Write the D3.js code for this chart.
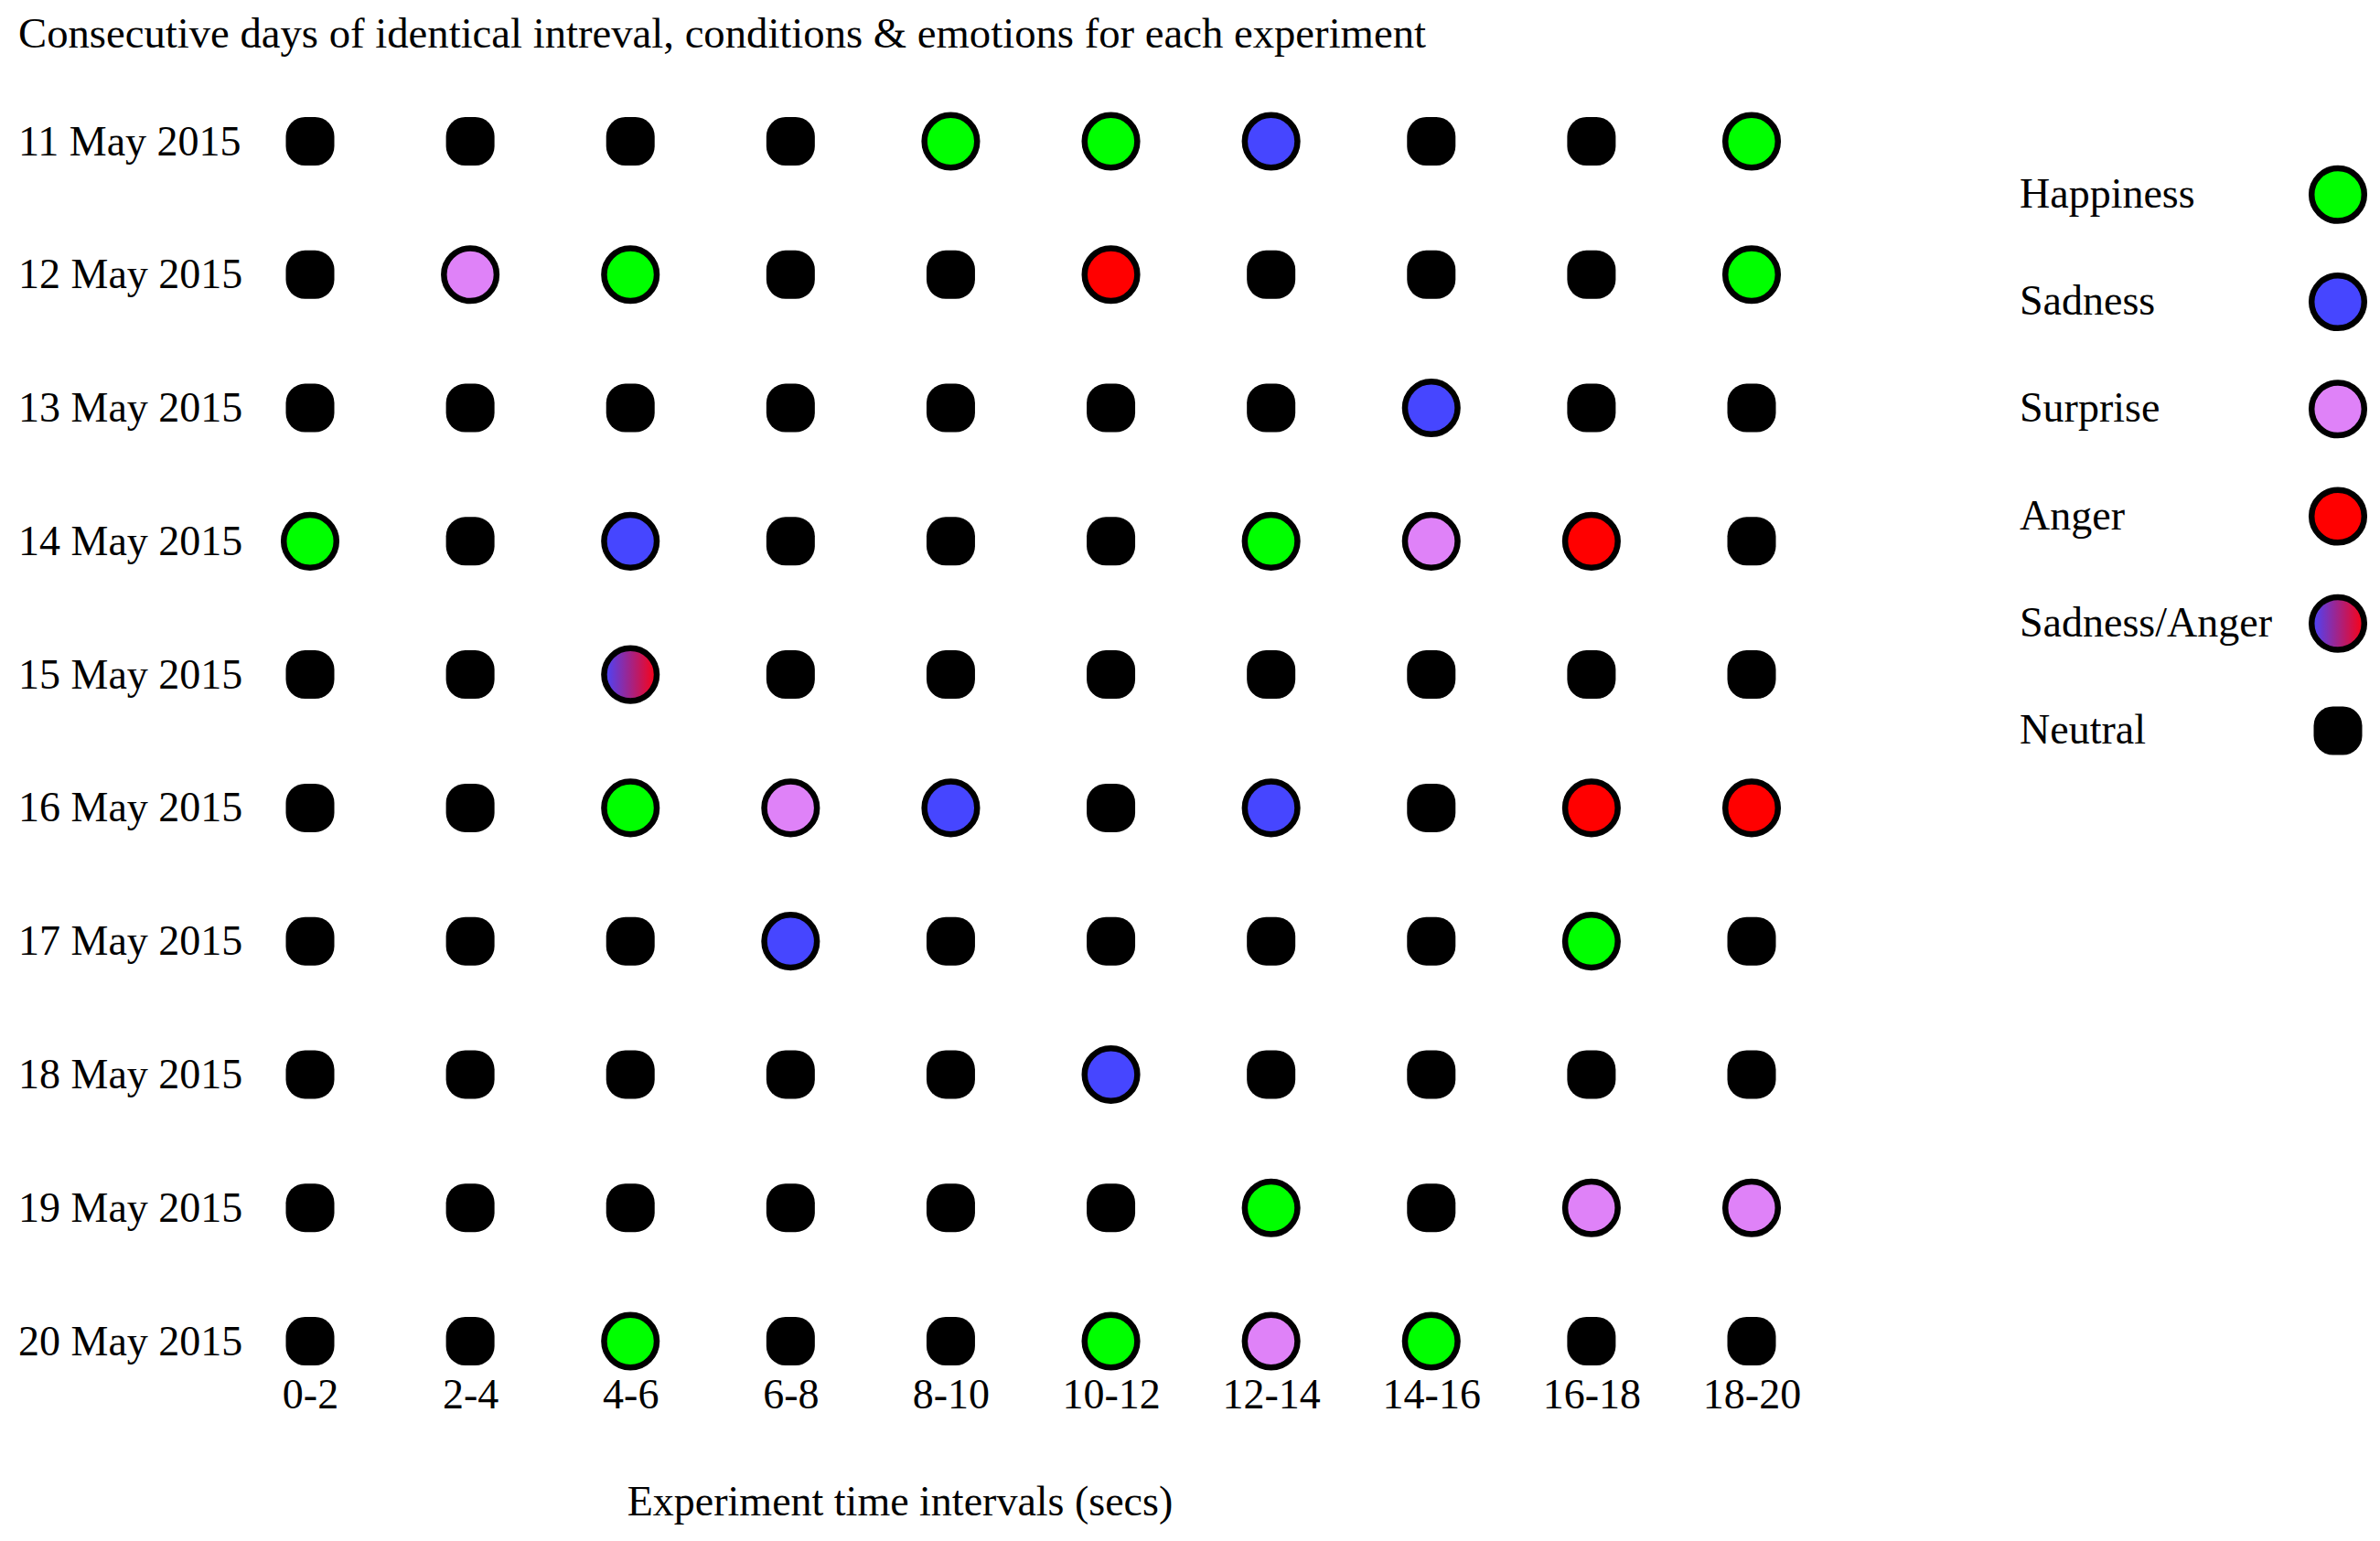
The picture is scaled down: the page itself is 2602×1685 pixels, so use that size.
<!DOCTYPE html>
<html>
<head>
<meta charset="utf-8">
<script src="https://cdn.jsdelivr.net/npm/d3@7"></script>
<style>
  body { margin: 0; background: #fff; }
  text { font-family: "Liberation Serif", "Times New Roman", serif; fill: #000; }
</style>
</head>
<body>
<div id="chart"></div>
<script>
// chart data
var days = ['11 May 2015', '12 May 2015', '13 May 2015', '14 May 2015', '15 May 2015',
   '16 May 2015', '17 May 2015', '18 May 2015', '19 May 2015', '20 May 2015'];
var intervals = ['0-2', '2-4', '4-6', '6-8', '8-10', '10-12', '12-14', '14-16', '16-18', '18-20'];
var emotions = ['Happiness', 'Sadness', 'Surprise', 'Anger', 'Sadness/Anger', 'Neutral'];

// one row per day, one emotion per interval
var row11 = ['Neutral', 'Neutral', 'Neutral', 'Neutral', 'Happiness', 'Happiness', 'Sadness', 'Neutral', 'Neutral', 'Happiness'];
var row12 = ['Neutral', 'Surprise', 'Happiness', 'Neutral', 'Neutral', 'Anger', 'Neutral', 'Neutral', 'Neutral', 'Happiness'];
var row13 = ['Neutral', 'Neutral', 'Neutral', 'Neutral', 'Neutral', 'Neutral', 'Neutral', 'Sadness', 'Neutral', 'Neutral'];
var row14 = ['Happiness', 'Neutral', 'Sadness', 'Neutral', 'Neutral', 'Neutral', 'Happiness', 'Surprise', 'Anger', 'Neutral'];
var row15 = ['Neutral', 'Neutral', 'Sadness/Anger', 'Neutral', 'Neutral', 'Neutral', 'Neutral', 'Neutral', 'Neutral', 'Neutral'];
var row16 = ['Neutral', 'Neutral', 'Happiness', 'Surprise', 'Sadness', 'Neutral', 'Sadness', 'Neutral', 'Anger', 'Anger'];
var row17 = ['Neutral', 'Neutral', 'Neutral', 'Sadness', 'Neutral', 'Neutral', 'Neutral', 'Neutral', 'Happiness', 'Neutral'];
var row18 = ['Neutral', 'Neutral', 'Neutral', 'Neutral', 'Neutral', 'Sadness', 'Neutral', 'Neutral', 'Neutral', 'Neutral'];
var row19 = ['Neutral', 'Neutral', 'Neutral', 'Neutral', 'Neutral', 'Neutral', 'Happiness', 'Neutral', 'Surprise', 'Surprise'];
var row20 = ['Neutral', 'Neutral', 'Happiness', 'Neutral', 'Neutral', 'Happiness', 'Surprise', 'Happiness', 'Neutral', 'Neutral'];
var rows = [row11, row12, row13, row14, row15, row16, row17, row18, row19, row20];

var width = 2602,
   height = 1685;

var fillColor = {
   'Happiness': '#00ff00',
   'Sadness': '#4646ff',
   'Surprise': '#df82f8',
   'Anger': '#ff0000',
   'Sadness/Anger': 'url(#sadAnger)',
   'Neutral': '#000'
};

var svg = d3.select('#chart').append('svg')
   .attr('width', width)
   .attr('height', height);

var defs = svg.append('defs');
var grad = defs.append('linearGradient')
   .attr('id', 'sadAnger')
   .attr('x1', '0%').attr('x2', '100%')
   .attr('y1', '0%').attr('y2', '0%');
grad.append('stop').attr('offset', '0%').attr('stop-color', '#4646ff');
grad.append('stop').attr('offset', '100%').attr('stop-color', '#ff0010');

var x = d3.scalePoint().domain(intervals).range([339, 1915]);
var y = d3.scalePoint().domain(days).range([154.5, 1466.5]);

var fontSize = 46;

// title
svg.append('text')
   .attr('x', 20)
   .attr('y', 52)
   .style('font-size', '46.7px')
   .text('Consecutive days of identical intreval, conditions & emotions for each experiment');

// day labels
svg.selectAll('.day-label')
   .data(days)
   .enter().append('text')
   .attr('class', 'day-label')
   .attr('x', 20)
   .attr('y', function(d) {
      return y(d) + 15
   })
   .style('font-size', fontSize + 'px')
   .text(function(d) {
      return d
   });

// bottom axis labels
var xAxis = svg.append('g')
   .attr('transform', 'translate(0,1507)')
   .call(d3.axisBottom(x).tickSize(0).tickPadding(0));
xAxis.select('.domain').remove();
xAxis.selectAll('text')
   .attr('dy', '0.71em')
   .style('font-size', fontSize + 'px')
   .style('font-family', '"Liberation Serif", "Times New Roman", serif');

svg.append('text')
   .attr('x', 984)
   .attr('y', 1657)
   .attr('text-anchor', 'middle')
   .style('font-size', fontSize + 'px')
   .text('Experiment time intervals (secs)');

// markers
function drawMarker(sel, emotion) {
   if (emotion === 'Neutral') {
      sel.append('rect')
         .attr('x', -26.5)
         .attr('y', -26.5)
         .attr('width', 53)
         .attr('height', 53)
         .attr('rx', 21)
         .attr('fill', '#000');
   } else {
      sel.append('circle')
         .attr('r', 28.8)
         .attr('fill', fillColor[emotion])
         .attr('stroke', '#000')
         .attr('stroke-width', 6.5);
   }
}

var cells = [];
rows.forEach(function(r, i) {
   r.forEach(function(e, j) {
      cells.push({ day: days[i], interval: intervals[j], emotion: e });
   });
});

svg.selectAll('.cell')
   .data(cells)
   .enter().append('g')
   .attr('class', 'cell')
   .attr('transform', function(d) {
      return 'translate(' + x(d.interval) + ',' + y(d.day) + ')'
   })
   .each(function(d) {
      drawMarker(d3.select(this), d.emotion);
   });

// legend
var ly = d3.scalePoint().domain(emotions).range([212.8, 799]);

var legend = svg.selectAll('.legend')
   .data(emotions)
   .enter().append('g')
   .attr('class', 'legend')
   .attr('transform', function(d) {
      return 'translate(0,' + ly(d) + ')'
   });

legend.append('text')
   .attr('x', 2208)
   .attr('y', 14)
   .style('font-size', fontSize + 'px')
   .text(function(d) {
      return d
   });

legend.append('g')
   .attr('transform', 'translate(2556,0)')
   .each(function(d) {
      drawMarker(d3.select(this), d);
   });
</script>
</body>
</html>
